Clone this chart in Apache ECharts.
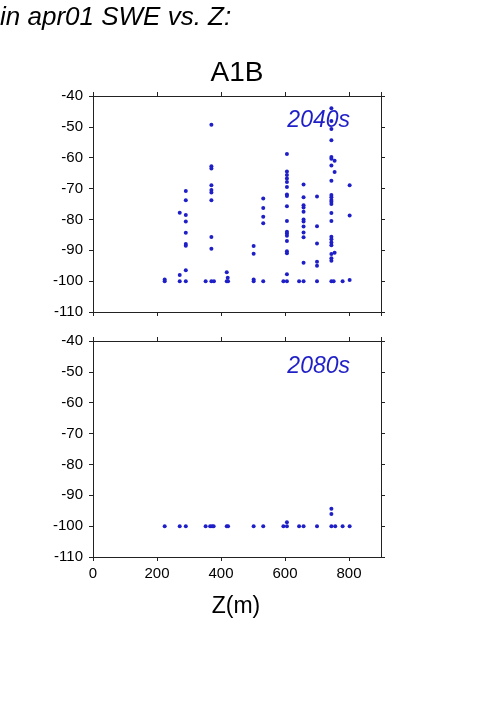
<!DOCTYPE html>
<html><head><meta charset="utf-8">
<script src="https://cdn.jsdelivr.net/npm/echarts@6/dist/echarts.min.js"></script>
<style>html,body{margin:0;padding:0;background:#fff}#c{width:501px;height:709px}</style>
</head><body><div id="c"></div>
<script>
var pageTitle = 'in apr01 SWE vs. Z:';
var scenario = 'A1B';
var xLabel = 'Z(m)';
var periods = ['2040s', '2080s'];
var yTicks = [-110, -100, -90, -80, -70, -60, -50, -40];
var xTicks = [0, 200, 400, 600, 800];

var z2040 = [224,224, 271,271,271,
  290,290,290,290,290,290,290,290,290,
  352,
  370,370,370,370,370,370,370,370,370,370,
  378, 418,418, 421, 422,
  502,502,502,502,
  532,532,532,532,532,
  595,
  606,606,606,606,606,606,606,606,606,606,606,606,606,606,606,606,606,606,
  644,
  658,658,658,658,658,658,658,658,658,658,658,658,
  700,700,700,700,700,700,
  745,745,745,745,745,745,745,745,745,745,745,745,745,745,745,745,745,745,745,745,745,745,745,
  755,755,755, 752, 780,
  802,802,802];
var swe2040 = [-99.5,-100, -77.8,-98,-100,
  -70.8,-73.8,-78.6,-80.7,-84.3,-88,-88.5,-96.5,-100,
  -100,
  -49.3,-62.8,-63.5,-68.9,-70.5,-71.3,-73.8,-85.7,-89.5,-100,
  -100, -97.1,-100, -98.9, -100,
  -88.6,-91.1,-99.5,-100,
  -73.2,-76.3,-79.1,-81.2,-100,
  -100,
  -58.8,-64.5,-65.6,-66.7,-67.9,-69.5,-71.9,-72.4,-75.7,-80.5,-84.0,-84.6,-85.3,-87.0,-90.3,-91.0,-97.8,-100,
  -100,
  -68.7,-72.8,-75.4,-76.1,-77.5,-80.0,-80.7,-82.3,-84.2,-85.8,-94.0,-100,
  -72.6,-82.2,-87.8,-93.7,-95.0,-100,
  -44.0,-48.1,-50.7,-54.3,-59.8,-60.3,-62.5,-67.5,-72.1,-72.8,-73.7,-74.3,-75.0,-77.9,-80.5,-85.6,-86.4,-87.5,-88.4,-91.2,-92.6,-93.4,-100,
  -61.0,-64.6,-90.8, -100, -100,
  -68.9,-78.7,-99.6];

var z2080 = [224,271,290,352,366,372,377,418,422,502,532,595,606,606,644,658,700,745,745,745,757,780,802];
var swe2080 = [-100,-100,-100,-100,-100,-100,-100,-100,-100,-100,-100,-100,-100,-98.7,-100,-100,-100,-100,-94.4,-96.1,-100,-100,-100];

function pairs(xs, ys){ return xs.map(function(x,i){ return [x, ys[i]]; }); }

var FONT = '"Liberation Sans", Arial, sans-serif';
var AX = '#222';
var BLUE = '#1f1fc8';

function xAxisDef(gi, pos, labels){
  return {type:'value', gridIndex:gi, position:pos, min:0, max:900, interval:200,
    axisLine:{show:true, onZero:false, lineStyle:{color:AX, width:1}},
    axisTick:{show:true, inside:false, length:4, lineStyle:{color:AX}},
    axisLabel:{show:labels, color:'#000', fontFamily:FONT, fontSize:15, margin:9, showMaxLabel:false},
    splitLine:{show:false}};
}
function yAxisDef(gi, pos, labels){
  return {type:'value', gridIndex:gi, position:pos, min:-110, max:-40, interval:10,
    axisLine:{show:true, onZero:false, lineStyle:{color:AX, width:1}},
    axisTick:{show:true, inside:false, length:4, lineStyle:{color:AX}},
    axisLabel:{show:labels, color:'#000', fontFamily:FONT, fontSize:15, margin:10},
    splitLine:{show:false}};
}

var chart = echarts.init(document.getElementById('c'), null, {renderer:'canvas'});
chart.setOption({
  animation:false,
  backgroundColor:'#fff',
  grid:[
    {left:93, top:96, width:288, height:216},
    {left:93, top:341, width:288, height:216}
  ],
  xAxis:[xAxisDef(0,'bottom',false), xAxisDef(0,'top',false), xAxisDef(1,'bottom',true), xAxisDef(1,'top',false)],
  yAxis:[yAxisDef(0,'left',true), yAxisDef(0,'right',false), yAxisDef(1,'left',true), yAxisDef(1,'right',false)],
  graphic:[
    {type:'text', x:0, y:18, style:{text:pageTitle, font:'italic 26px ' + FONT, fill:'#000', textVerticalAlign:'middle'}},
    {type:'text', x:237, y:73, style:{text:scenario, font:'28px ' + FONT, fill:'#000', textAlign:'center', textVerticalAlign:'middle'}},
    {type:'text', x:236, y:607, style:{text:xLabel, font:'23px ' + FONT, fill:'#000', textAlign:'center', textVerticalAlign:'middle'}},
    {type:'text', x:350, y:121, z:0, style:{text:periods[0], font:'italic 23px ' + FONT, fill:BLUE, textAlign:'right', textVerticalAlign:'middle'}},
    {type:'text', x:350, y:367, z:0, style:{text:periods[1], font:'italic 23px ' + FONT, fill:BLUE, textAlign:'right', textVerticalAlign:'middle'}}
  ],
  series:[
    {type:'scatter', xAxisIndex:0, yAxisIndex:0, data:pairs(z2040, swe2040), symbol:'circle', symbolSize:4, itemStyle:{color:BLUE, opacity:1}, z:5},
    {type:'scatter', xAxisIndex:2, yAxisIndex:2, data:pairs(z2080, swe2080), symbol:'circle', symbolSize:4, itemStyle:{color:BLUE, opacity:1}, z:5}
  ]
});
</script></body></html>
